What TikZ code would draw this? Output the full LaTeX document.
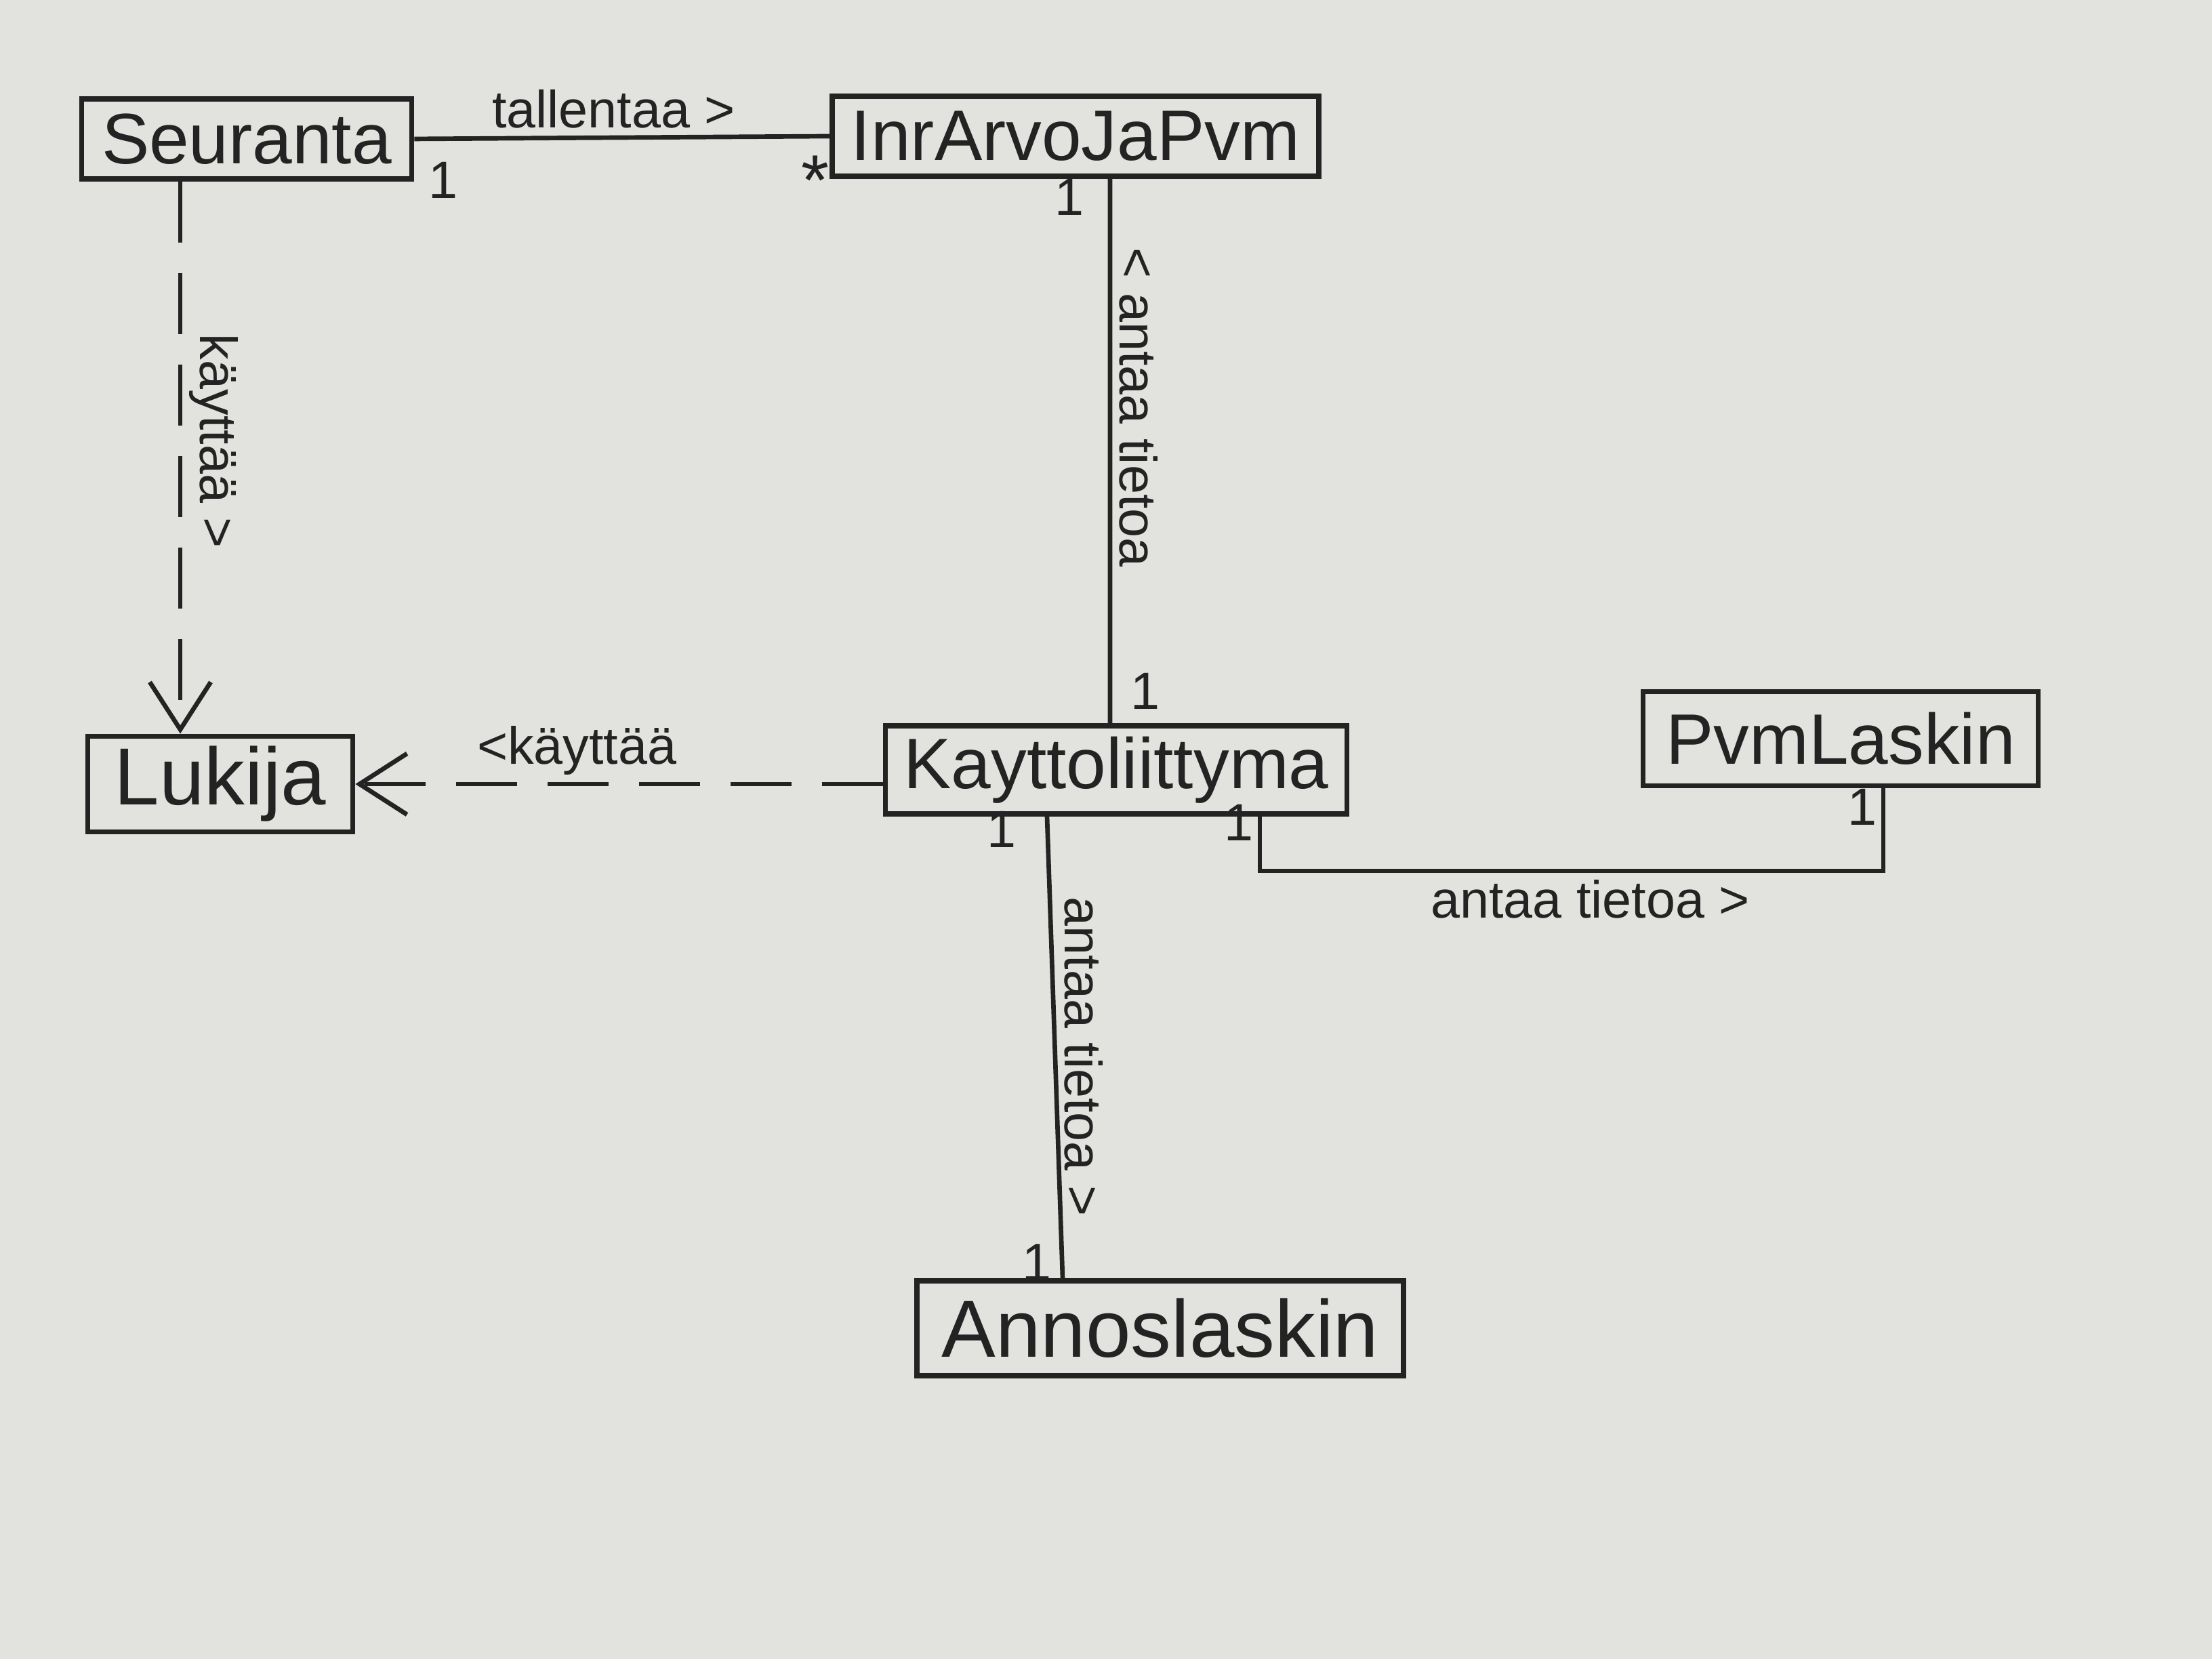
\documentclass[tikz,border=0pt]{standalone}
\usepackage{fontspec}
\setmainfont{Liberation Sans}
\usetikzlibrary{arrows.meta}

\definecolor{paper}{RGB}{226,226,222}
\definecolor{pencil}{RGB}{35,35,35}

\newcommand\classfont{\fontsize{30}{36}\selectfont}
\newcommand\bigclassfont{\fontsize{34}{40}\selectfont}
\newcommand\linkfont{\fontsize{22}{26}\selectfont}

\tikzset{
  classbox/.style={rectangle,
      draw = pencil,
      text = pencil,
      line width = 2.2pt,
      inner sep = 2pt,
      font = \classfont},
  assoc/.style={draw = pencil, line width = 1.9pt},
  dep/.style={draw = pencil, line width = 1.9pt,
      dash pattern = on 0.9cm off 0.45cm,
      -{Straight Barb[length=7mm,width=9mm]}},
  linktext/.style={text = pencil, font = \linkfont, inner sep = 3pt},
  multtext/.style={text = pencil, font = \linkfont, inner sep = 0pt}
}

\begin{document}
\begin{tikzpicture}
% paper
\fill[paper] (0,0) rectangle (32.64,24.48);

% classes
\node[classbox,
    minimum width = 4.87cm,
    minimum height = 1.18cm] (seuranta) at (3.64,22.43) {Seuranta};

\node[classbox,
    minimum width = 7.18cm,
    minimum height = 1.18cm] (inrarvo) at (15.87,22.47) {InrArvoJaPvm};

\node[classbox,
    font = \bigclassfont,
    minimum width = 3.91cm,
    minimum height = 1.41cm] (lukija) at (3.25,12.91) {Lukija};

\node[classbox,
    minimum width = 6.81cm,
    minimum height = 1.30cm] (kaytto) at (16.47,13.12) {Kayttoliittyma};

\node[classbox,
    minimum width = 5.83cm,
    minimum height = 1.39cm] (pvmlaskin) at (27.16,13.58) {PvmLaskin};

\node[classbox,
    font = \bigclassfont,
    minimum width = 7.18cm,
    minimum height = 1.40cm] (annoslaskin) at (17.12,4.88) {Annoslaskin};

% Seuranta -- InrArvoJaPvm
\draw[assoc] (seuranta.east) -- node[linktext, pos=0.48, above] (tallentaa) {tallentaa >} (inrarvo.west);
\node[multtext] (m-seur) at (6.54,21.82) {1};
\node[multtext, font=\classfont] (m-inr) at (12.03,21.82) {*};

% Seuranta -> Lukija
\draw[dep] ([xshift=-0.98cm]seuranta.south) -- node[linktext, pos=0.47, rotate=-90, anchor=south] (kayttaa1) {käyttää >} ([xshift=-0.59cm]lukija.north);

% Kayttoliittyma -> Lukija
\draw[dep] (kaytto.west |- lukija.east) -- node[linktext, pos=0.58, above] (kayttaa2) {<käyttää} (lukija.east);

% InrArvoJaPvm -- Kayttoliittyma
\draw[assoc] ([xshift=0.51cm]inrarvo.south) -- node[linktext, pos=0.42, rotate=-90, anchor=south] (antaa1) {< antaa tietoa} ([xshift=-0.09cm]kaytto.north);
\node[multtext] (m-inr2) at (15.78,21.57) {1};
\node[multtext] (m-kay1) at (16.90,14.28) {1};

% Kayttoliittyma -- Annoslaskin
\draw[assoc] ([xshift=-1.02cm]kaytto.south) -- node[linktext, pos=0.52, rotate=-90, anchor=south] (antaa2) {antaa tietoa >} ([xshift=-1.44cm]annoslaskin.north);
\node[multtext] (m-kay2) at (14.78,12.24) {1};
\node[multtext] (m-annos) at (15.30,5.85) {1};

% Kayttoliittyma -- PvmLaskin
\draw[assoc] ([xshift=2.12cm]kaytto.south) -- ++(0,-0.8) coordinate (bend)
  -| node[linktext, pos=0.265, below] (antaa3) {antaa tietoa >} ([xshift=0.63cm]pvmlaskin.south);
\node[multtext] (m-kay3) at (18.28,12.34) {1};
\node[multtext] (m-pvm) at (27.48,12.57) {1};

\end{tikzpicture}
\end{document}
